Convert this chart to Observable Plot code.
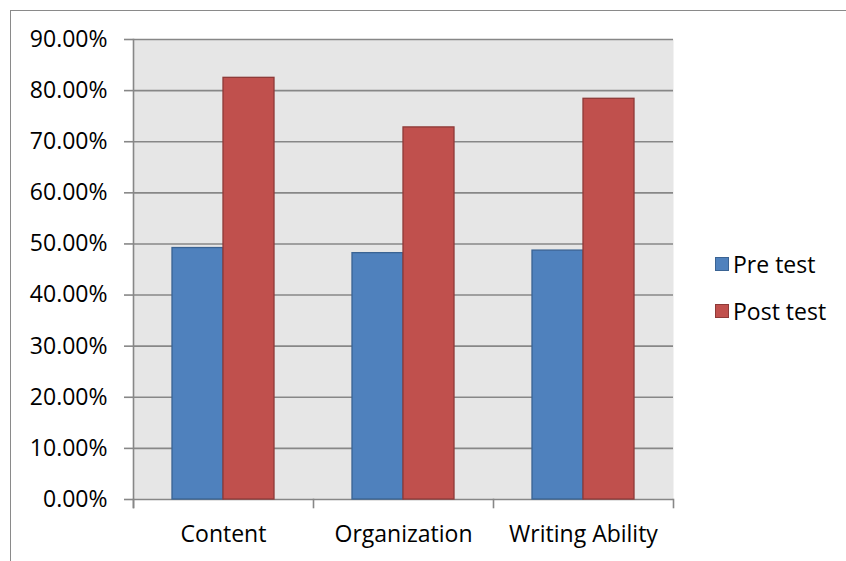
<!DOCTYPE html>
<html>
<head>
<meta charset="utf-8">
<script src="https://cdn.jsdelivr.net/npm/d3@7"></script>
<script src="https://cdn.jsdelivr.net/npm/@observablehq/plot@0.6"></script>
<style>
  html, body { margin: 0; padding: 0; background: #fff; }
  #wrap { position: relative; width: 846px; height: 561px; overflow: hidden; font-family: "Open Sans", sans-serif; }
  #border { position: absolute; left: 10px; top: 10px; width: 900px; height: 700px; border: 1.3px solid #8a8a8a; box-sizing: border-box; }
  #chart { position: absolute; left: 0; top: 0; }
  .key { position: absolute; left: 715px; display: flex; align-items: center; font-size: 23px; color: #000; white-space: nowrap; }
  .key .sw { width: 14px; height: 14px; box-sizing: border-box; border: 1.3px solid; margin-right: 4px; }
</style>
</head>
<body>
<div id="wrap">
  <div id="border"></div>
  <div id="chart"></div>
  <div id="legend"></div>
</div>
<script>
// Writing scores before and after the course, by component
const categories = ["Content", "Organization", "Writing Ability"];
const series = ["Pre test", "Post test"];
const preTest = [0.492, 0.482, 0.487];
const postTest = [0.825, 0.728, 0.784];
const yTicks = [0, 0.1, 0.2, 0.3, 0.4, 0.5, 0.6, 0.7, 0.8, 0.9];

const fills = {"Pre test": "#4f81bd", "Post test": "#c0504d"};
const strokes = {"Pre test": "#3a6393", "Post test": "#8e3a38"};

const rows = categories.flatMap((c, i) => [
  {category: c, series: "Pre test", value: preTest[i]},
  {category: c, series: "Post test", value: postTest[i]}
]);

const width = 846, height = 561;
const marginTop = 39, marginRight = 173, marginBottom = 62, marginLeft = 133;
const innerHeight = height - marginTop - marginBottom;
const gridColor = "#878787";
const panelColor = "#e6e6e6";

const chart = Plot.plot({
  width, height, marginTop, marginRight, marginBottom, marginLeft,
  style: {fontFamily: "Open Sans", fontSize: "23px", color: "#000", background: "transparent", overflow: "visible"},
  fx: {domain: categories, padding: 0, label: null},
  x: {domain: series, paddingInner: 0, paddingOuter: 0.75, axis: null},
  y: {domain: [0, 0.9]},
  color: {type: "identity"},
  marks: [
    // one background panel spanning all three groups
    Plot.frame({fill: panelColor, stroke: null, facet: "super"}),
    Plot.gridY(yTicks, {stroke: gridColor, strokeOpacity: 1, strokeWidth: 1.6}),
    Plot.barY(rows, {
      fx: "category", x: "series", y: "value",
      fill: d => fills[d.series], stroke: d => strokes[d.series], strokeWidth: 1.3
    }),
    // vertical axis line on the first panel, reaching down to the category tick
    Plot.frame({anchor: "left", facetAnchor: "left", stroke: gridColor, strokeWidth: 1.6, insetBottom: -8}),
    // category boundary ticks below the baseline
    Plot.frame({anchor: "left", stroke: gridColor, strokeWidth: 1.6, insetTop: innerHeight, insetBottom: -8}),
    Plot.frame({anchor: "right", facetAnchor: "right", stroke: gridColor, strokeWidth: 1.6, insetTop: innerHeight, insetBottom: -8}),
    Plot.axisY(yTicks, {tickFormat: d3.format(".2%"), tickSize: 9, tickPadding: 17, stroke: gridColor, strokeWidth: 1.6, label: null}),
    Plot.axisFx({anchor: "bottom", tickSize: 0, tickPadding: 26, label: null})
  ]
});
document.getElementById("chart").appendChild(chart);

// legend to the right of the plot
const legend = document.getElementById("legend");
series.forEach((s, i) => {
  const item = document.createElement("div");
  item.className = "key";
  item.style.top = (249 + i * 47) + "px";
  item.style.height = "30px";
  const sw = document.createElement("div");
  sw.className = "sw";
  sw.style.background = fills[s];
  sw.style.borderColor = strokes[s];
  const label = document.createElement("span");
  label.textContent = s;
  item.appendChild(sw);
  item.appendChild(label);
  legend.appendChild(item);
});
</script>
</body>
</html>
